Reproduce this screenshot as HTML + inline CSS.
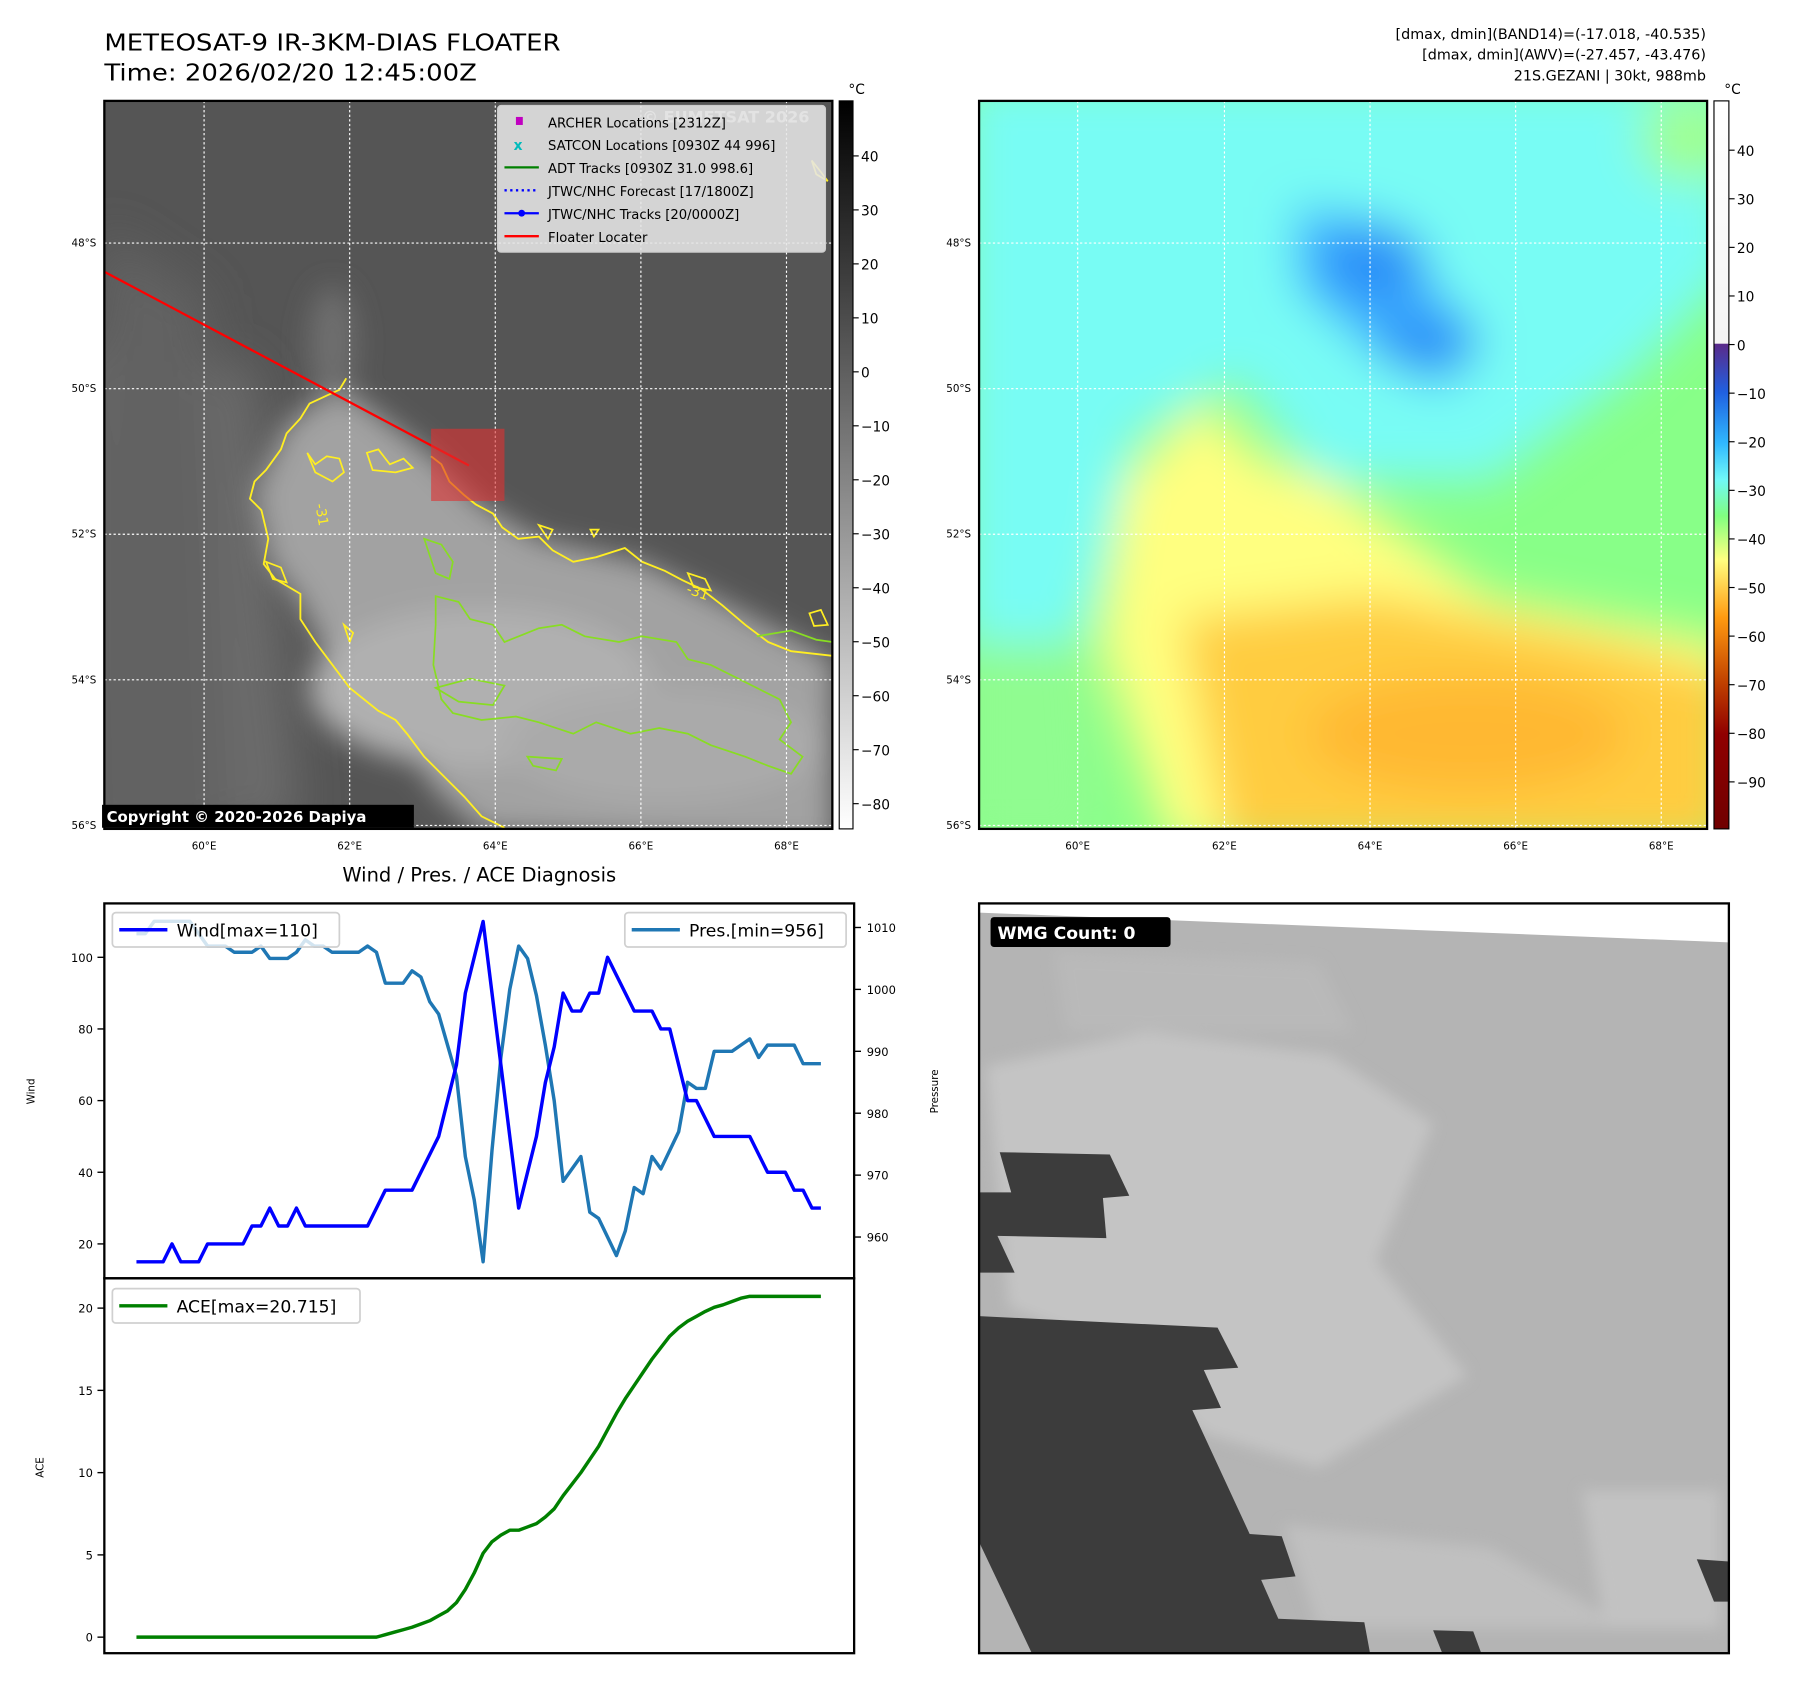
<!DOCTYPE html>
<html><head><meta charset="utf-8">
<style>
html,body{margin:0;padding:0;background:#fff}
svg{display:block}
text{font-family:"DejaVu Sans","Liberation Sans",sans-serif}
</style></head>
<body>
<svg id="fig" width="1797" height="1690" viewBox="0 0 1567.4 1474.1" xmlns="http://www.w3.org/2000/svg">
<defs>
  <filter id="blur20" x="-50%" y="-50%" width="200%" height="200%"><feGaussianBlur stdDeviation="20"/></filter>
  <filter id="blur12" x="-50%" y="-50%" width="200%" height="200%"><feGaussianBlur stdDeviation="12"/></filter>
  <filter id="blur6" x="-50%" y="-50%" width="200%" height="200%"><feGaussianBlur stdDeviation="6"/></filter>
  <clipPath id="clipL"><rect x="91" y="88" width="635" height="635"/></clipPath>
  <clipPath id="clipR"><rect x="854" y="88" width="635" height="635"/></clipPath>
  <clipPath id="clipB"><rect x="854" y="788" width="654" height="654"/></clipPath>
  <linearGradient id="cbGray" x1="0" y1="0" x2="0" y2="1">
    <stop offset="0" stop-color="#000"/><stop offset="1" stop-color="#fff"/>
  </linearGradient>
  <linearGradient id="cbColor" x1="0" y1="0" x2="0" y2="1">
    <stop offset="0" stop-color="#ffffff"/>
    <stop offset="0.333" stop-color="#f4f4f4"/>
    <stop offset="0.334" stop-color="#5a2a8a"/>
    <stop offset="0.40" stop-color="#2060e0"/>
    <stop offset="0.47" stop-color="#30b8ff"/>
    <stop offset="0.52" stop-color="#70f8f8"/>
    <stop offset="0.57" stop-color="#80ff80"/>
    <stop offset="0.63" stop-color="#ffff80"/>
    <stop offset="0.71" stop-color="#ff9a10"/>
    <stop offset="0.80" stop-color="#c04000"/>
    <stop offset="0.87" stop-color="#900000"/>
    <stop offset="1" stop-color="#700000"/>
  </linearGradient>
</defs>

<text x="91" y="44" font-size="20" textLength="398" lengthAdjust="spacingAndGlyphs">METEOSAT-9 IR-3KM-DIAS FLOATER</text>
<text x="91" y="70" font-size="20" textLength="325" lengthAdjust="spacingAndGlyphs">Time: 2026/02/20 12:45:00Z</text>
<g font-size="12.5" text-anchor="end">
  <text x="1488" y="34">[dmax, dmin](BAND14)=(-17.018, -40.535)</text>
  <text x="1488" y="52">[dmax, dmin](AWV)=(-27.457, -43.476)</text>
  <text x="1488" y="70">21S.GEZANI | 30kt, 988mb</text>
</g>

<g clip-path="url(#clipL)">
  <rect x="91" y="88" width="635" height="635" fill="#555"/>
  <g filter="url(#blur20)">
    <path d="M60,300 L220,320 L260,720 L60,740 Z" fill="#6c6c6c"/>
    <path d="M90,200 L180,260 L200,740 L60,740 Z" fill="#626262"/>
  </g>
  <g filter="url(#blur12)">
    <path d="M295,335 L250,370 L222,430 L235,490 L262,525 L300,600 L345,635 L380,690 L420,725 L726,740 L726,575 L640,530 L560,490 L470,470 L420,440 L380,400 Z" fill="#a2a2a2"/>
    <ellipse cx="420" cy="600" rx="150" ry="70" fill="#b0b0b0"/>
    <ellipse cx="580" cy="650" rx="140" ry="50" fill="#aaaaaa"/>
    <ellipse cx="290" cy="300" rx="20" ry="50" fill="#707070"/>
  </g>
  <path fill="none" stroke="#ffee22" stroke-width="1.6" d="M302,330 L296,340 L285,345 L270,352 L262,365 L250,378 L245,392 L232,410 L222,420 L218,435 L228,445 L234,470 L230,492 L240,505 L262,518 L262,540 L275,560 L290,580 L305,600 L330,620 L345,628 L355,640 L370,660 L390,680 L405,695 L420,712 L440,722"/>
  <path fill="none" stroke="#ffee22" stroke-width="1.6" d="M376,398 L385,405 L392,420 L405,432 L415,440 L430,448 L438,460 L452,470 L470,468 L482,480 L500,490 L520,486 L545,478 L560,490 L580,498 L595,506 L612,514 L630,528 L650,545 L670,560 L690,568 L726,572"/>
  <path fill="none" stroke="#ffee22" stroke-width="1.5" d="M268,395 L275,405 L285,398 L296,400 L300,412 L290,420 L275,412 Z M320,395 L330,392 L340,405 L352,400 L360,408 L345,412 L325,410 Z M232,490 L245,495 L250,508 L238,505 Z M300,545 L308,552 L305,560 Z M470,458 L482,462 L478,470 Z M515,462 L522,462 L518,468 Z M600,500 L615,505 L620,515 L605,512 Z M706,535 L716,532 L722,545 L710,546 Z M708,140 L716,150 L722,158 L712,152 Z"/>
  <path fill="none" stroke="#88dd22" stroke-width="1.5" d="M380,520 L400,525 L410,540 L430,545 L440,560 L470,548 L490,545 L510,555 L540,560 L560,555 L590,560 L600,575 L620,580 L640,590 L660,600 L680,610 L690,630 L680,645 L700,660 L690,675 L670,668 L650,660 L620,650 L600,640 L575,635 L550,640 L520,630 L500,640 L470,630 L450,625 L420,628 L395,622 L385,610 L378,580 L380,545 Z"/>
  <path fill="none" stroke="#88dd22" stroke-width="1.5" d="M370,470 L385,475 L395,490 L392,505 L380,500 Z M660,555 L690,550 L712,558 L726,560 M380,600 L410,592 L440,598 L430,615 L400,612 Z M460,660 L490,662 L485,672 L465,668 Z"/>
  <g stroke="#fff" stroke-width="1" stroke-dasharray="2,2">
    <line x1="178" y1="88" x2="178" y2="723"/><line x1="305" y1="88" x2="305" y2="723"/><line x1="432" y1="88" x2="432" y2="723"/><line x1="559" y1="88" x2="559" y2="723"/><line x1="686" y1="88" x2="686" y2="723"/>
    <line x1="91" y1="212" x2="726" y2="212"/><line x1="91" y1="339" x2="726" y2="339"/><line x1="91" y1="466" x2="726" y2="466"/><line x1="91" y1="593" x2="726" y2="593"/><line x1="91" y1="720" x2="726" y2="720"/>
  </g>
  <text x="560" y="107" font-size="14" font-weight="bold" fill="#ccc">© EUMETSAT 2026</text>
  <text x="598" y="517" font-size="12" fill="#ffee22" transform="rotate(20 598 517)">-31</text>
  <text x="275" y="440" font-size="12" fill="#ffee22" transform="rotate(80 275 440)">-31</text>
  <line x1="91" y1="237" x2="409" y2="406" stroke="#ff0000" stroke-width="2"/>
  <rect x="376" y="374" width="64" height="63" fill="#e03030" fill-opacity="0.6"/>
</g>
<rect x="91" y="88" width="635" height="635" fill="none" stroke="#000" stroke-width="2"/>
<g>
  <rect x="434" y="92" width="286" height="128" rx="3" fill="#e6e6e6" fill-opacity="0.88" stroke="#ccc"/>
  <g font-size="11.5">
    <rect x="450" y="102" width="6" height="7" fill="#c000c0"/><text x="478" y="111">ARCHER Locations [2312Z]</text>
    <text x="448" y="131" fill="#00bbbb" font-size="12" font-weight="bold">x</text><text x="478" y="131">SATCON Locations [0930Z 44 996]</text>
    <line x1="440" y1="146" x2="470" y2="146" stroke="#008000" stroke-width="2"/><text x="478" y="151">ADT Tracks [0930Z 31.0 998.6]</text>
    <line x1="440" y1="166" x2="470" y2="166" stroke="#0000ff" stroke-width="2" stroke-dasharray="2,3"/><text x="478" y="171">JTWC/NHC Forecast [17/1800Z]</text>
    <line x1="440" y1="186" x2="470" y2="186" stroke="#0000ff" stroke-width="2"/><circle cx="455" cy="186" r="3" fill="#0000ff"/><text x="478" y="191">JTWC/NHC Tracks [20/0000Z]</text>
    <line x1="440" y1="206" x2="470" y2="206" stroke="#ff0000" stroke-width="2"/><text x="478" y="211">Floater Locater</text>
  </g>
</g>
<g>
  <rect x="89" y="702" width="272" height="20" fill="#000"/>
  <text x="93" y="717" font-size="13" font-weight="bold" fill="#fff">Copyright © 2020-2026 Dapiya</text>
</g>
<g font-size="9" text-anchor="end">
  <text x="84" y="215">48°S</text><text x="84" y="342">50°S</text><text x="84" y="469">52°S</text><text x="84" y="596">54°S</text><text x="84" y="723">56°S</text>
</g>
<g font-size="9" text-anchor="middle">
  <text x="178" y="741">60°E</text><text x="305" y="741">62°E</text><text x="432" y="741">64°E</text><text x="559" y="741">66°E</text><text x="686" y="741">68°E</text>
</g>
<g>
  <rect x="732" y="88" width="12" height="635" fill="url(#cbGray)" stroke="#000" stroke-width="1"/>
  <text x="740" y="82" font-size="12">°C</text>
  <g id="cbLticks" font-size="12"></g>
</g>

<g clip-path="url(#clipR)">
  <rect x="854" y="88" width="635" height="635" fill="#88ff88"/>
  <g filter="url(#blur20)">
    <path d="M840,70 L1510,70 L1510,240 L1420,330 L1300,420 L1150,420 L1080,330 L990,380 L960,500 L940,560 L840,600 Z" fill="#78fcf4"/>
    <path d="M840,560 L950,560 L960,740 L840,740 Z" fill="#90fc90"/>
    <path d="M1130,180 L1200,190 L1290,290 L1260,340 L1200,310 L1130,250 Z" fill="#40b4ff"/>
    <ellipse cx="1200" cy="230" rx="45" ry="35" fill="#2a90f8"/>
    <ellipse cx="1245" cy="300" rx="45" ry="25" fill="#2a90f8"/>
    <path d="M980,420 L1050,350 L1100,400 L1160,420 L1300,520 L1510,560 L1510,740 L1020,740 L960,560 Z" fill="#ffff80"/>
    <path d="M1030,540 L1200,520 L1400,560 L1510,590 L1510,740 L1070,740 Z" fill="#ffcc40"/>
    <ellipse cx="1280" cy="640" rx="140" ry="50" fill="#ffb830"/>
    <ellipse cx="1470" cy="120" rx="40" ry="40" fill="#a0ff90"/>
  </g>
  <g stroke="#fff" stroke-width="1" stroke-dasharray="2,2">
    <line x1="940" y1="88" x2="940" y2="723"/><line x1="1068" y1="88" x2="1068" y2="723"/><line x1="1195" y1="88" x2="1195" y2="723"/><line x1="1322" y1="88" x2="1322" y2="723"/><line x1="1449" y1="88" x2="1449" y2="723"/>
    <line x1="854" y1="212" x2="1489" y2="212"/><line x1="854" y1="339" x2="1489" y2="339"/><line x1="854" y1="466" x2="1489" y2="466"/><line x1="854" y1="593" x2="1489" y2="593"/><line x1="854" y1="720" x2="1489" y2="720"/>
  </g>
</g>
<rect x="854" y="88" width="635" height="635" fill="none" stroke="#000" stroke-width="2"/>
<g font-size="9" text-anchor="end">
  <text x="847" y="215">48°S</text><text x="847" y="342">50°S</text><text x="847" y="469">52°S</text><text x="847" y="596">54°S</text><text x="847" y="723">56°S</text>
</g>
<g font-size="9" text-anchor="middle">
  <text x="940" y="741">60°E</text><text x="1068" y="741">62°E</text><text x="1195" y="741">64°E</text><text x="1322" y="741">66°E</text><text x="1449" y="741">68°E</text>
</g>
<g>
  <rect x="1495" y="88" width="13" height="635" fill="url(#cbColor)" stroke="#000" stroke-width="1"/>
  <text x="1504" y="82" font-size="12">°C</text>
  <g id="cbRticks" font-size="12"></g>
</g>

<text x="418" y="769" font-size="17" text-anchor="middle">Wind / Pres. / ACE Diagnosis</text>
<g id="chart"></g>

<g clip-path="url(#clipB)">
  <rect x="854" y="788" width="654" height="654" fill="#fff"/>
  <polygon points="854,796 1508,822 1508,1442 854,1442" fill="#b4b4b4"/>
  <g filter="url(#blur6)">
    <polygon points="860,930 1000,900 1160,920 1250,980 1200,1100 1280,1200 1150,1280 1050,1250 980,1180 880,1140" fill="#c4c4c4"/>
    <polygon points="1120,1330 1300,1350 1420,1420 1150,1420" fill="#c0c0c0"/>
    <polygon points="1380,1300 1500,1300 1500,1420 1400,1420" fill="#c2c2c2"/>
    <polygon points="920,830 1150,840 1180,900 930,900" fill="#b9b9b9"/>
  </g>
  <polygon points="854,1148 1062,1158 1080,1193 1050,1195 1065,1228 1040,1230 1090,1338 1118,1340 1130,1375 1100,1378 1115,1412 1190,1415 1195,1442 900,1442 854,1345" fill="#3c3c3c"/>
  <polygon points="872,1005 968,1007 985,1043 962,1045 965,1080 870,1078 885,1110 854,1110 854,1040 882,1040" fill="#3c3c3c"/>
  <polygon points="1480,1360 1508,1362 1508,1397 1495,1397" fill="#3c3c3c"/>
  <polygon points="1250,1422 1285,1423 1292,1442 1258,1442" fill="#3c3c3c"/>
</g>
<rect x="854" y="788" width="654" height="654" fill="none" stroke="#000" stroke-width="2"/>
<g>
  <rect x="864" y="800" width="157" height="26" rx="3" fill="#000"/>
  <text x="870" y="819" font-size="15" font-weight="bold" fill="#fff">WMG Count: 0</text>
</g>

<script>
const windValues = [15,15,15,15,20,15,15,15,20,20,20,20,20,25,25,30,25,25,30,25,25,25,25,25,25,25,25,30,35,35,35,35,40,45,50,60,70,90,100,110,90,70,50,30,40,50,65,75,90,85,85,90,90,100,95,90,85,85,85,80,80,70,60,60,55,50,50,50,50,50,45,40,40,40,35,35,30,30];
const presValues = [1009,1009,1011,1011,1011,1011,1011,1009,1007,1007,1007,1006,1006,1006,1007,1005,1005,1005,1006,1008,1007,1007,1006,1006,1006,1006,1007,1006,1001,1001,1001,1003,1002,998,996,991,986,973,966,956,974,989,1000,1007,1005,999,991,982,969,971,973,964,963,960,957,961,968,967,973,971,974,977,985,984,984,990,990,990,991,992,989,991,991,991,991,988,988,988];
const aceValues = [0,0,0,0,0,0,0,0,0,0,0,0,0,0,0,0,0,0,0,0,0,0,0,0,0,0,0,0,0.15,0.3,0.45,0.6,0.8,1.0,1.3,1.6,2.1,2.9,3.9,5.1,5.8,6.2,6.5,6.5,6.7,6.9,7.3,7.8,8.6,9.3,10.0,10.8,11.6,12.6,13.6,14.5,15.3,16.1,16.9,17.6,18.3,18.8,19.2,19.5,19.8,20.05,20.2,20.4,20.6,20.715,20.715,20.715,20.715,20.715,20.715,20.715,20.715,20.715];
const windTicks = [20,40,60,80,100];
const presTicks = [960,970,980,990,1000,1010];
const aceTicks = [0,5,10,15,20];
const cbLTicks = [40,30,20,10,0,-10,-20,-30,-40,-50,-60,-70,-80];
const cbRTicks = [40,30,20,10,0,-10,-20,-30,-40,-50,-60,-70,-80,-90];

const NS = 'http://www.w3.org/2000/svg';
function mk(tag, attrs, parent){const e=document.createElementNS(NS,tag);for(const k in attrs)e.setAttribute(k,attrs[k]);parent.appendChild(e);return e;}

const N = windValues.length;
const xIdx = i => 119 + i*(716-119)/(N-1);
const yWind = v => 835 + (100-v)*(1085-835)/80;
const yPres = v => 809 + (1010-v)*(1079-809)/50;
const yAce = v => 1428 - v*(1428-1141)/20;
const yCbL = v => 136 + (40-v)*(701-136)/120;
const yCbR = v => 131 + (40-v)*(682-131)/130;

const chart = document.getElementById('chart');
const windAx = mk('rect',{x:91,y:788,width:654,height:327,fill:'none',stroke:'#000','stroke-width':2},chart);


const aceAx = mk('rect',{x:91,y:1115,width:654,height:327,fill:'none',stroke:'#000','stroke-width':2},chart);



function tickLeft(vals, yf, name){
  const g = mk('g',{'font-size':10},chart);
  
  
  vals.forEach(v=>{const y=yf(v);mk('line',{x1:85,x2:91,y1:y,y2:y,stroke:'#000','stroke-width':1.2},g);const t=mk('text',{x:81,y:y+4,'text-anchor':'end'},g);t.textContent=v;});
}
tickLeft(windTicks,yWind,'wind-y-ticks');
tickLeft(aceTicks,yAce,'ace-y-ticks');
const pg = mk('g',{'font-size':10},chart);


presTicks.forEach(v=>{const y=yPres(v);mk('line',{x1:745,x2:751,y1:y,y2:y,stroke:'#000','stroke-width':1.2},pg);const t=mk('text',{x:756,y:y+4},pg);t.textContent=v;});

function label(txt,x,y,name){const t=mk('text',{x:x,y:y,'font-size':9,'text-anchor':'middle',transform:`rotate(-90 ${x} ${y})`},chart);t.textContent=txt;}
label('Wind',30,952,'wind-axis-title');
label('Pressure',818,952,'pressure-axis-title');
label('ACE',38,1280,'ace-axis-title');

function line(vals, yf, color, name){
  const d = vals.map((v,i)=>(i?'L':'M')+xIdx(i).toFixed(2)+','+yf(v).toFixed(2)).join(' ');
  const p = mk('path',{d:d,fill:'none',stroke:color,'stroke-width':3,'stroke-linejoin':'round'},chart);
  
  
}
line(presValues,yPres,'#1f77b4','pressure-line');
line(windValues,yWind,'#0000ff','wind-line');
line(aceValues,yAce,'#008000','ace-line');

function legend(x,y,w,color,txt,name){
  const g = mk('g',{},chart);
  
  
  mk('rect',{x:x,y:y,width:w,height:30,rx:3,fill:'#fff','fill-opacity':0.8,stroke:'#d0d0d0','stroke-width':1.5},g);
  mk('line',{x1:x+6,x2:x+48,y1:y+15,y2:y+15,stroke:color,'stroke-width':3},g);
  const t=mk('text',{x:x+56,y:y+21,'font-size':15},g);t.textContent=txt;
}
legend(98,796,198,'#0000ff','Wind[max=110]','wind-legend');
legend(545,796,193,'#1f77b4','Pres.[min=956]','pressure-legend');
legend(98,1124,216,'#008000','ACE[max=20.715]','ace-legend');

const gL = document.getElementById('cbLticks');
cbLTicks.forEach(v=>{const y=yCbL(v);mk('line',{x1:744,x2:749,y1:y,y2:y,stroke:'#000'},gL);const t=mk('text',{x:751,y:y+5},gL);t.textContent=(v<0?'\u2212'+(-v):v);});
const gR = document.getElementById('cbRticks');
cbRTicks.forEach(v=>{const y=yCbR(v);mk('line',{x1:1508,x2:1513,y1:y,y2:y,stroke:'#000'},gR);const t=mk('text',{x:1515,y:y+5},gR);t.textContent=(v<0?'\u2212'+(-v):v);});
</script>
</svg>
</body></html>
